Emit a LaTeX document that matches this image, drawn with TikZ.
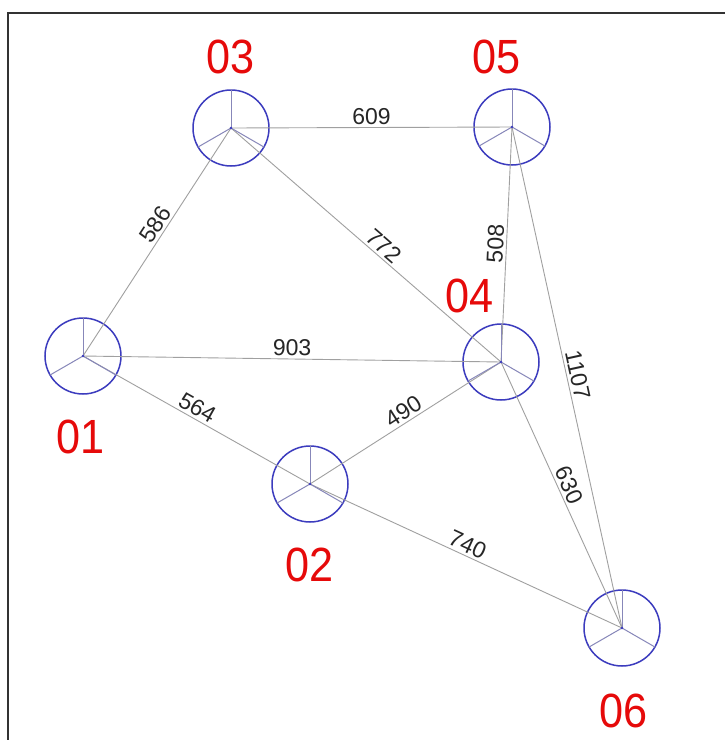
\documentclass[tikz,border=0pt]{standalone}
\usepackage{fontspec}
\setmainfont{Liberation Sans}
\definecolor{stationblue}{RGB}{60,60,190}
\definecolor{spokeblue}{RGB}{135,135,185}
\definecolor{linkgray}{RGB}{160,160,160}
\definecolor{tagred}{RGB}{230,10,10}
\definecolor{framegray}{RGB}{50,50,50}
\begin{document}
\begin{tikzpicture}[x=1pt,y=-1pt,
  station/.style={circle, draw=stationblue, line width=1.5pt, minimum size=76pt, inner sep=0pt},
  spoke/.style={draw=spokeblue, line width=1pt},
  link/.style={draw=linkgray, line width=0.9pt},
  dist/.style={font=\fontsize{23}{23}\selectfont, text=black!85, sloped, above, inner sep=2.5pt},
  tag/.style={text=tagred, font=\fontsize{48}{48}\selectfont, inner sep=0pt, xscale=0.9, transform shape}]
\useasboundingbox (0,0) rectangle (725,740);
\clip (0,0) rectangle (725,740);
\fill[white] (0,0) rectangle (725,740);
\draw[framegray, line width=2pt] (7.5,12.5) rectangle (760,780);

% stations
\node[station] (n01) at (83,356) {};
\node[station] (n02) at (310,484) {};
\node[station] (n03) at (231,128) {};
\node[station] (n04) at (501,362) {};
\node[station] (n05) at (512,127) {};
\node[station] (n06) at (622,628) {};

% links with distances
\draw[link] (n03.center) -- node[dist, pos=0.5] {609} (n05.center);
\draw[link] (n01.center) -- node[dist, pos=0.55] {586} (n03.center);
\draw[link] (n03.center) -- node[dist, pos=0.54] {772} (n04.center);
\draw[link] (n05.center) -- node[dist, pos=0.5] {508} (n04.center);
\draw[link] (n05.center) -- node[dist, pos=0.5] {1107} (n06.center);
\draw[link] (n01.center) -- node[dist, pos=0.5] {903} (n04.center);
\draw[link] (n01.center) -- node[dist, pos=0.48] {564} (n02.center);
\draw[link] (n02.center) -- node[dist, pos=0.52] {490} (n04.center);
\draw[link] (n04.center) -- node[dist, pos=0.48] {630} (n06.center);
\draw[link] (n02.center) -- node[dist, pos=0.49] {740} (n06.center);

% three spokes in every station
\foreach \s in {n01,n02,n03,n04,n05,n06}{
  \draw[spoke] (\s.center) -- (\s.90);
  \draw[spoke] (\s.center) -- (\s.210);
  \draw[spoke] (\s.center) -- (\s.330);
  \fill[stationblue] (\s.center) circle (1.3);
}

% station names
\node[tag] (t03) at (231,57) {03};
\node[tag] (t05) at (497,57) {05};
\node[tag] (t04) at (470,296) {04};
\node[tag] (t01) at (81,437) {01};
\node[tag] (t02) at (310,565) {02};
\node[tag] (t06) at (624,711) {06};
\end{tikzpicture}
\end{document}
